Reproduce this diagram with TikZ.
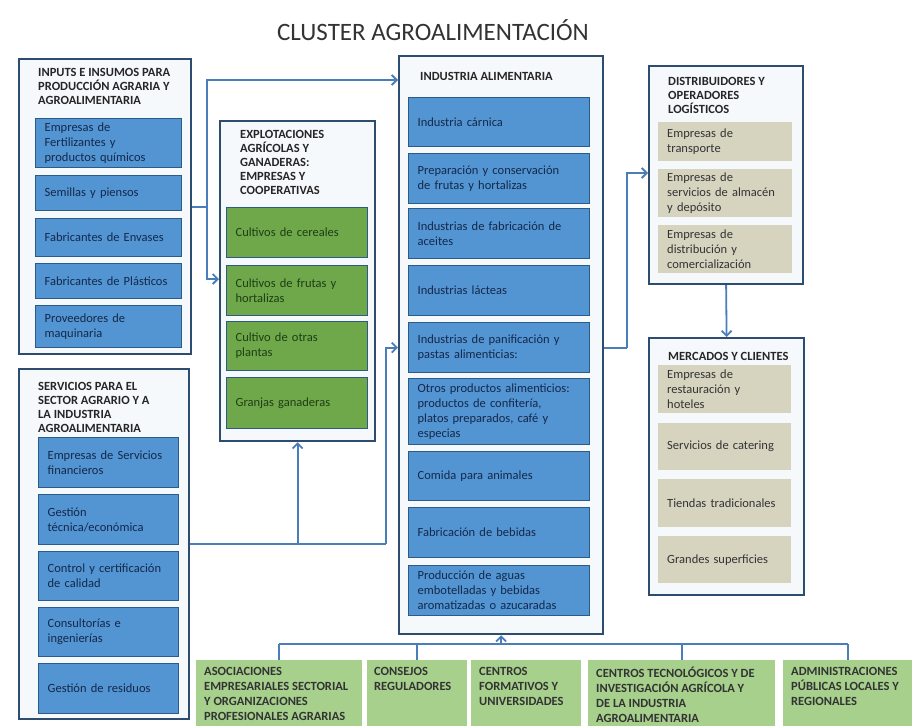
\documentclass[tikz,border=0pt]{standalone}
\usepackage{fontspec}
\setmainfont{Carlito}
\usepackage{tikz}
\usetikzlibrary{arrows.meta}
\definecolor{navy}{HTML}{2E4B70}
\definecolor{paleblue}{HTML}{F6F9FC}
\definecolor{midblue}{HTML}{5295D2}
\definecolor{rimblue}{HTML}{2D5B88}
\definecolor{inkblue}{HTML}{15284A}
\definecolor{leaf}{HTML}{6EA84A}
\definecolor{inkgreen}{HTML}{1F3D14}
\definecolor{sand}{HTML}{D6D3BF}
\definecolor{meadow}{HTML}{A6D08C}
\definecolor{wire}{HTML}{4A7EBB}
\tikzset{
  panel/.style 2 args={draw=navy, line width=2.2pt, fill=paleblue, anchor=north west,
    minimum width=#1, minimum height=#2, inner sep=0pt},
  head/.style={anchor=north west, align=left, inner sep=0pt, text=black!85,
    font=\bfseries\fontsize{12.5}{14}\selectfont},
  item/.style 2 args={anchor=north west, minimum width=#1, minimum height=#2,
    text width=#1-18, inner xsep=9pt, inner ysep=0pt, align=left,
    font=\fontsize{12.5}{15}\selectfont},
  bluebox/.style={draw=rimblue, line width=1.3pt, fill=midblue, text=inkblue},
  greenbox/.style={draw=rimblue, line width=1.3pt, fill=leaf, text=inkgreen},
  sandbox/.style={fill=sand, text=black!80},
  footbox/.style 2 args={anchor=north west, fill=meadow, minimum width=#1,
    minimum height=#2, inner sep=0pt},
  foottext/.style={anchor=north west, align=left, inner sep=0pt, text=black!80,
    font=\bfseries\fontsize{12.5}{15}\selectfont},
  link/.style={draw=wire, line width=1.8pt},
  >={Straight Barb[length=5pt,width=10pt]},
}

\begin{document}
\begin{tikzpicture}[x=1pt, y=-1pt]
  \useasboundingbox[fill=white] (0,0) rectangle (912,726);
  \node[font=\fontsize{25}{30}\selectfont, text=black!80] at (433,30) (title) {CLUSTER AGROALIMENTACIÓN};

  % inputs
  \node[panel={172}{295}] at (18,58) (inputs) {};
  \node[head] at (38,68) (inputs-t) {INPUTS E INSUMOS PARA\\PRODUCCIÓN AGRARIA Y\\AGROALIMENTARIA};
  \node[item={146}{49}, bluebox] at (35,118) (in1) {Empresas de\\Fertilizantes y\\productos químicos};
  \node[item={146}{35}, bluebox] at (35,175) (in2) {Semillas y piensos};
  \node[item={146}{38}, bluebox] at (35,218) (in3) {Fabricantes de Envases};
  \node[item={146}{35}, bluebox] at (35,263) (in4) {Fabricantes de Plásticos};
  \node[item={146}{42}, bluebox] at (35,305) (in5) {Proveedores de\\maquinaria};

  % servicios
  \node[panel={170}{350}] at (18,368) (servicios) {};
  \node[head] at (38,382) (servicios-t) {SERVICIOS PARA EL\\SECTOR AGRARIO Y A\\LA INDUSTRIA\\AGROALIMENTARIA};
  \node[item={140}{50}, bluebox] at (38,437) (sv1) {Empresas de Servicios\\financieros};
  \node[item={140}{50}, bluebox] at (38,494) (sv2) {Gestión\\técnica/económica};
  \node[item={140}{49}, bluebox] at (38,551) (sv3) {Control y certificación\\de calidad};
  \node[item={140}{49}, bluebox] at (38,607) (sv4) {Consultorías e\\ingenierías};
  \node[item={140}{50}, bluebox] at (38,663) (sv5) {Gestión de residuos};

  % explotaciones
  \node[panel={155}{320}] at (219,120) (explot) {};
  \node[head] at (240,130) (explot-t) {EXPLOTACIONES\\AGRÍCOLAS Y\\GANADERAS:\\EMPRESAS Y\\COOPERATIVAS};
  \node[item={141}{50}, greenbox] at (226,207) (g1) {Cultivos de cereales};
  \node[item={141}{50}, greenbox] at (226,265) (g2) {Cultivos de frutas y\\hortalizas};
  \node[item={141}{49}, greenbox] at (226,321) (g3) {Cultivo de otras\\plantas};
  \node[item={141}{51}, greenbox] at (226,377) (g4) {Granjas ganaderas};

  % industria
  \node[panel={204}{578}] at (398,55) (industria) {};
  \node[head] at (420,72) (industria-t) {INDUSTRIA ALIMENTARIA};
  \node[item={181}{49}, bluebox] at (408,97) (i1) {Industria cárnica};
  \node[item={181}{50}, bluebox] at (408,153) (i2) {Preparación y conservación\\de frutas y hortalizas};
  \node[item={181}{50}, bluebox] at (408,208) (i3) {Industrias de fabricación de\\aceites};
  \node[item={181}{50}, bluebox] at (408,265) (i4) {Industrias lácteas};
  \node[item={181}{50}, bluebox] at (408,322) (i5) {Industrias de panificación y\\pastas alimenticias:};
  \node[item={181}{66}, bluebox] at (408,378) (i6) {Otros productos alimenticios:\\productos de confitería,\\platos preparados, café y\\especias};
  \node[item={181}{49}, bluebox] at (408,451) (i7) {Comida para animales};
  \node[item={181}{50}, bluebox] at (408,507) (i8) {Fabricación de bebidas};
  \node[item={181}{50}, bluebox] at (408,565) (i9) {Producción de aguas\\embotelladas y bebidas\\aromatizadas o azucaradas};

  % distribuidores
  \node[panel={154}{218}] at (648,65) (distrib) {};
  \node[head] at (668,77) (distrib-t) {DISTRIBUIDORES Y\\OPERADORES\\LOGÍSTICOS};
  \node[item={134}{39}, sandbox] at (658,122) (d1) {Empresas de\\transporte};
  \node[item={134}{48}, sandbox] at (658,169) (d2) {Empresas de\\servicios de almacén\\y depósito};
  \node[item={134}{48}, sandbox] at (658,225) (d3) {Empresas de\\distribución y\\comercialización};

  % mercados
  \node[panel={155}{257}] at (648,337) (mercados) {};
  \node[head] at (668,352) (mercados-t) {MERCADOS Y CLIENTES};
  \node[item={133}{48}, sandbox] at (658,365) (m1) {Empresas de\\restauración y\\hoteles};
  \node[item={133}{47}, sandbox] at (658,423) (m2) {Servicios de catering};
  \node[item={133}{48}, sandbox] at (658,479) (m3) {Tiendas tradicionales};
  \node[item={133}{47}, sandbox] at (658,536) (m4) {Grandes superficies};

  % apoyo
  \node[footbox={166}{66}] at (196,660) (a1) {};
  \node[footbox={100}{66}] at (367,660) (a2) {};
  \node[footbox={110}{66}] at (471,660) (a3) {};
  \node[footbox={187}{66}] at (588,660) (a4) {};
  \node[footbox={129}{66}] at (783,660) (a5) {};
  \node[foottext] at (204,667) (a1-t) {ASOCIACIONES\\EMPRESARIALES SECTORIAL\\Y ORGANIZACIONES\\PROFESIONALES AGRARIAS};
  \node[foottext] at (374,667) (a2-t) {CONSEJOS\\REGULADORES};
  \node[foottext] at (479,667) (a3-t) {CENTROS\\FORMATIVOS Y\\UNIVERSIDADES};
  \node[foottext] at (596,667) (a4-t) {CENTROS TECNOLÓGICOS Y DE\\INVESTIGACIÓN AGRÍCOLA Y\\DE LA INDUSTRIA\\AGROALIMENTARIA};
  \node[foottext] at (791,667) (a5-t) {ADMINISTRACIONES\\PÚBLICAS LOCALES Y\\REGIONALES};

  % flujos
  \draw[link] (inputs.east) -- ++(15,0) coordinate (fork1);
  \draw[link,->] (fork1) |- ([yshift=-25pt]industria.north west);
  \draw[link,->] (fork1) |- ([yshift=-159pt]explot.north west);
  \draw[link] (servicios.east) -- ++(196,0) coordinate (fork2);
  \draw[link,->] (fork2) |- (industria.west |- i5);
  \draw[link,->] (servicios.east -| explot.south) -- (explot.south);
  \draw[link] (industria.east |- i5) -- ++(23,0) coordinate (fork3);
  \draw[link,->] (fork3) |- ([yshift=-108pt]distrib.north west);
  \draw[link,->] (distrib.south) -- (mercados.north);

  \coordinate (bus) at (0,644);
  \draw[link] (a1.north |- bus) -- (a5.north |- bus);
  \foreach \n in {a1,a2,a4,a5}
    \draw[link] (\n.north |- bus) -- (\n.north);
  \draw[link,->] (industria.south |- bus) -- (industria.south);
\end{tikzpicture}
\end{document}
